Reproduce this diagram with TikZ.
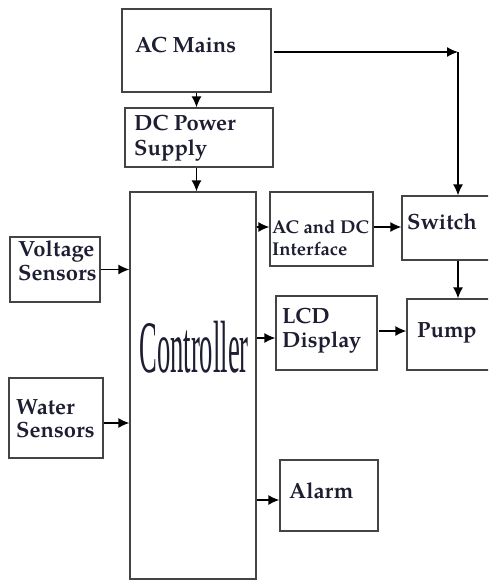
\documentclass[tikz,border=0pt]{standalone}
\usepackage{fontspec}
\setmainfont{texgyrepagella-regular.otf}[BoldFont=texgyrepagella-bold.otf]
\newfontfamily\ctrlfont{Liberation Serif}
\usetikzlibrary{arrows.meta,calc}
\definecolor{boxgray}{HTML}{444444}
\definecolor{txt}{HTML}{1E1E32}
\begin{document}
\begin{tikzpicture}[x=1pt,y=-1pt,
 blk/.style={draw=boxgray, line width=1.3pt, inner sep=0pt},
 lbl/.style={anchor=base west, inner sep=0pt, text=txt, font=\fontsize{22}{26}\selectfont\bfseries},
 sml/.style={lbl, font=\fontsize{18.5}{22}\selectfont\bfseries},
 arr/.style={draw=black, line width=1.3pt, -{Latex[length=11pt,width=10pt]}},
 ]
\useasboundingbox (0,0) rectangle (488,581);
\begin{scope}
\clip (0,0) rectangle (488,581);
\node[blk, minimum width=149pt, minimum height=83pt] (acm) at (196.5,50.5) {};
\node[blk, minimum width=148pt, minimum height=59pt] (dcp) at (199,137.5) {};
\node[blk, minimum width=126pt, minimum height=387pt] (ctrl) at (193,385.5) {};
\node[blk, minimum width=90pt, minimum height=65pt] (volt) at (55,269.5) {};
\node[blk, minimum width=94pt, minimum height=80pt] (water) at (56,418) {};
\node[blk, minimum width=103pt, minimum height=74pt] (acdc) at (321.5,229) {};
\node[blk, minimum width=108pt, minimum height=64pt] (sw) at (456,228) {};
\node[blk, minimum width=101pt, minimum height=74pt] (lcd) at (326.5,333) {};
\node[blk, minimum width=103pt, minimum height=71pt] (pump) at (458.5,334.5) {};
\node[blk, minimum width=98pt, minimum height=71pt] (alarm) at (329,495.5) {};

\node[lbl] (tacm) at (135,52) {AC Mains};
\node[lbl] (tdcp1) at (134,130) {DC Power};
\node[lbl] (tdcp2) at (134,155) {Supply};
\node[lbl] (tvolt1) at (18,256) {Voltage};
\node[lbl] (tvolt2) at (18,280) {Sensors};
\node[lbl] (twat1) at (16,414) {Water};
\node[lbl] (twat2) at (16,437) {Sensors};
\node[sml] (tacdc1) at (272,233) {AC and DC};
\node[sml] (tacdc2) at (272,255) {Interface};
\node[lbl] (tsw) at (407,229) {Switch};
\node[lbl] (tlcd1) at (282,323) {LCD};
\node[lbl] (tlcd2) at (282,347) {Display};
\node[lbl] (tpump) at (417,337) {Pump};
\node[lbl] (talarm) at (289,498) {Alarm};
\node[anchor=base, inner sep=0pt, text=txt] (tctrl) at (194,372) {\scalebox{0.36}[1]{\ctrlfont\fontsize{74}{74}\selectfont Controller}};

\coordinate (corner) at (458,52);
\draw[arr] (acm.south) -- (acm.south |- dcp.north);
\draw[arr] (acm.south |- dcp.south) -- (acm.south |- ctrl.north);
\draw[arr] ($(acm.east |- corner)+(2,0)$) -- (corner);
\draw[arr] (corner) -- (corner |- sw.north);
\draw[arr] (volt.east) -- (volt.east -| ctrl.west);
\draw[arr] ($(water.east)+(0,5)$) -- ($(water.east -| ctrl.west)+(0,5)$);
\draw[arr] ($(ctrl.east |- acdc.west)+(0,-2)$) -- ($(acdc.west)+(0,-2)$);
\draw[arr] ($(acdc.east)+(0,-2)$) -- ($(acdc.east -| sw.west)+(0,-2)$);
\draw[arr] (corner |- sw.south) -- (corner |- pump.north);
\draw[arr] ($(ctrl.east |- lcd.west)+(0,5)$) -- ($(lcd.west)+(0,5)$);
\draw[arr] ($(lcd.east)+(1,-2)$) -- ($(lcd.east -| pump.west)+(0,-2)$);
\draw[arr] ($(ctrl.east |- alarm.west)+(0,4.5)$) -- ($(alarm.west)+(0,4.5)$);
\end{scope}
\end{tikzpicture}
\end{document}
